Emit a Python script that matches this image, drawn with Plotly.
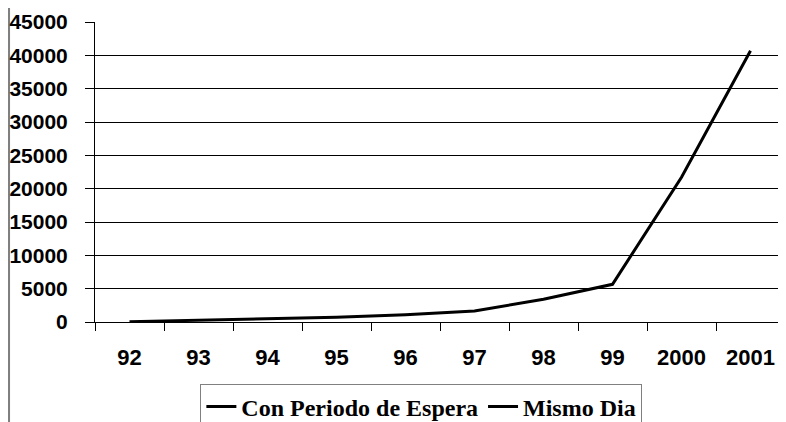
import plotly.graph_objects as go

categories = ["92", "93", "94", "95", "96", "97", "98", "99", "2000", "2001"]
con_periodo = [50, 250, 450, 700, 1100, 1650, 3400, 5650, 21700, 40700]
mismo_dia = [None] * len(categories)
y_ticks = [0, 5000, 10000, 15000, 20000, 25000, 30000, 35000, 40000, 45000]

fig = go.Figure()
fig.add_trace(go.Scatter(x=categories, y=con_periodo, mode="lines",
                         name="Con Periodo de Espera",
                         line=dict(color="black", width=3)))
fig.add_trace(go.Scatter(x=categories, y=mismo_dia, mode="lines",
                         name="Mismo Dia",
                         line=dict(color="black", width=3)))

fig.update_layout(
    width=778, height=414,
    margin=dict(l=87, r=1, t=14, b=100, autoexpand=False),
    paper_bgcolor="white", plot_bgcolor="white",
    showlegend=True,
    legend=dict(orientation="h", x=0.473, xanchor="center", y=-0.205, yanchor="top",
                bordercolor="#808080", borderwidth=1,
                font=dict(family="Liberation Serif", size=24, color="black", weight="bold"),
                itemwidth=30, tracegroupgap=0),
    shapes=[dict(type="line", xref="paper", yref="paper", x0=-0.1253, x1=-0.1253,
                 y0=-0.34, y1=1.05, layer="below",
                 line=dict(color="#808080", width=3))],
)
fig.update_xaxes(type="category", range=[-0.5, 9.5], automargin=False,
                 tickson="boundaries", ticks="outside", ticklen=8,
                 tickcolor="black", showline=True, linecolor="black", linewidth=1,
                 showgrid=False,
                 tickfont=dict(family="Liberation Sans", size=22, color="black", weight="bold"),
                 ticklabelstandoff=16)
fig.update_yaxes(range=[0, 45000], automargin=False, tickvals=y_ticks,
                 ticktext=[str(v) for v in y_ticks],
                 showgrid=True, gridcolor="black", gridwidth=1,
                 ticks="outside", ticklen=9, tickcolor="black",
                 showline=True, linecolor="black", linewidth=1, zeroline=False,
                 tickfont=dict(family="Liberation Sans", size=21, color="black", weight="bold"),
                 ticklabelstandoff=13)

fig.write_html("out.html")
